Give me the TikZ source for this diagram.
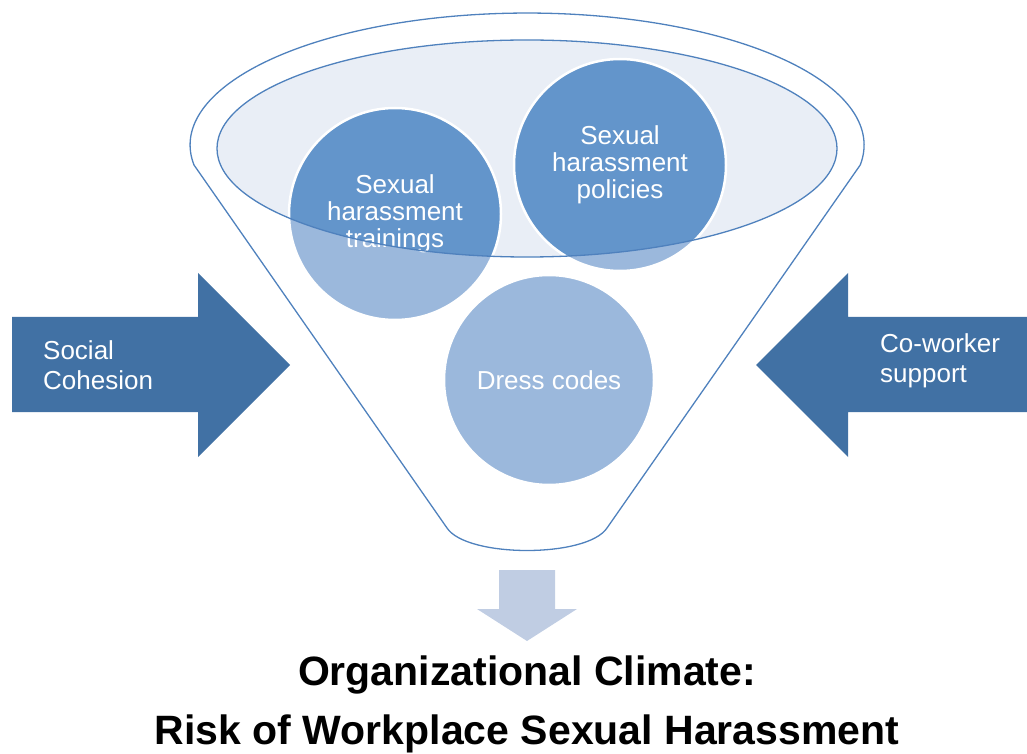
\documentclass[tikz,border=0pt]{standalone}
\usepackage{fontspec}
\setmainfont{Liberation Sans}
\usepackage{xcolor}
\definecolor{rimblue}{RGB}{79,129,189}
\definecolor{bowlfill}{RGB}{233,238,246}
\definecolor{bubbledark}{RGB}{99,149,203}
\definecolor{bubblelight}{RGB}{155,184,220}
\definecolor{pushblue}{RGB}{65,113,164}
\definecolor{outblue}{RGB}{192,205,227}

\begin{document}
\begin{tikzpicture}[x=1pt, y=1pt,
  rim/.style={draw=rimblue, line width=1.3pt},
  bubble/.style={circle, draw=white, line width=2.5pt, minimum size=212pt, inner sep=0pt, align=center, text=white, font=\fontsize{26}{27}\selectfont},
  push/.style={fill=pushblue},
  sidetext/.style={anchor=west, inner sep=0pt, align=left, text=white, font=\fontsize{26}{30}\selectfont},
  headline/.style={anchor=base, inner sep=0pt, font=\fontsize{41}{41}\selectfont\bfseries}
]
\useasboundingbox (0,0) rectangle (1027,753);
% funnel bowl and bubbles
\fill[bowlfill] (527,604.5) ellipse[x radius=310, y radius=108.5];
\fill[bubblelight] (395,539) circle[radius=106];
\fill[bubblelight] (620,588) circle[radius=106];
\fill[bubblelight] (549,373) circle[radius=105];
\begin{scope}
  \clip (527,604.5) ellipse[x radius=310, y radius=108.5];
  \fill[bubbledark] (395,539) circle[radius=106];
  \fill[bubbledark] (620,588) circle[radius=106];
\end{scope}
\node[bubble] (trn) at (395,539) {Sexual\\harassment\\trainings};
\node[bubble] (pol) at (620,588) {Sexual\\harassment\\policies};
\node[bubble, minimum size=210pt] (drs) at (549,373) {Dress codes};
\draw[rim] (527,604.5) ellipse[x radius=310, y radius=108.5];
\draw[rim] (447,225) -- (194,588) arc[start angle=188.7, end angle=-8.7, x radius=337, y radius=132]
  -- (607,225) .. controls (587,195) and (467,195) .. (447,225) -- cycle;
% side arrows
\fill[push] (12,436) -- (198,436) -- (198,480) -- (290,388) -- (198,296) -- (198,341) -- (12,341) -- cycle;
\fill[push] (1027,436) -- (848,436) -- (848,480) -- (756,388) -- (848,296) -- (848,341) -- (1027,341) -- cycle;
\node[sidetext] (soc) at (43,388) {Social\\Cohesion};
\node[sidetext] (cow) at (880,392) {Co-worker\\support};
% outlet
\fill[outblue] (499,183) -- (555,183) -- (555,144) -- (577,144) -- (527,112) -- (477,144) -- (499,144) -- cycle;
\node[headline] (hd1) at (527,68) {Organizational Climate:};
\node[headline] (hd2) at (527,9) {Risk of Workplace Sexual Harassment};
\end{tikzpicture}
\end{document}
